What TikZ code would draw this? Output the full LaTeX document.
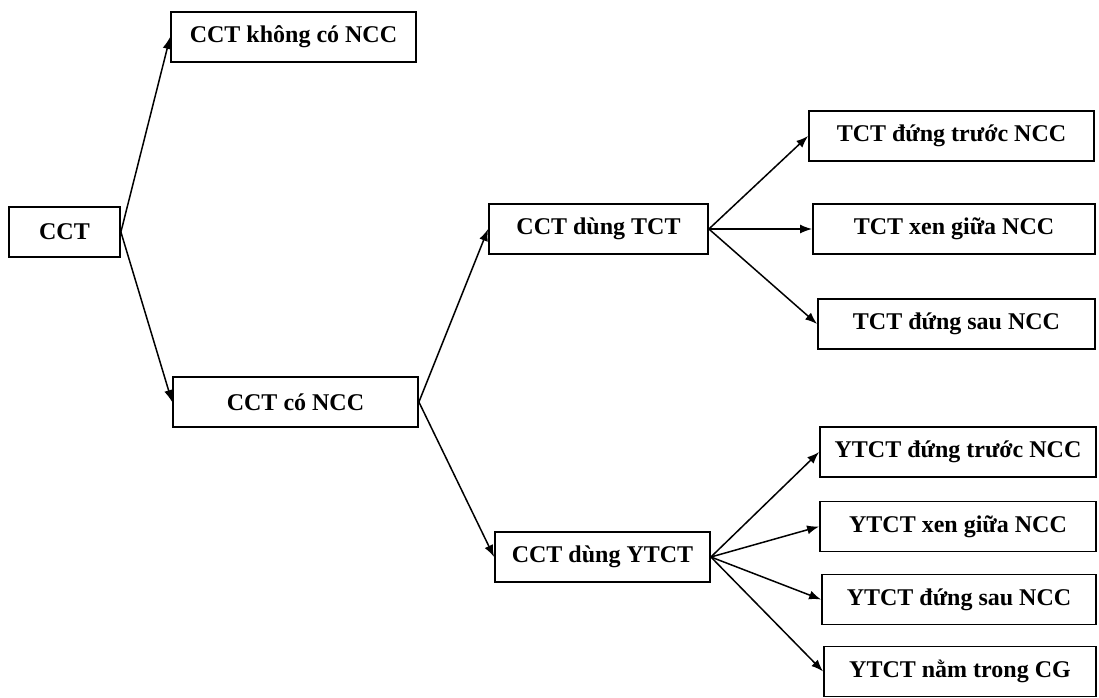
\documentclass[tikz,border=0pt]{standalone}
\usepackage{fontspec}
\setmainfont{Liberation Serif}
\usepackage{tikz}
\usetikzlibrary{arrows.meta}

\begin{document}
\begin{tikzpicture}[x=0.5pt,y=-0.5pt,>={Latex[length=6pt,width=4.5pt]},
    every node/.style={font=\fontsize{12}{14}\selectfont\bfseries},
    box/.style={draw,line width=0.9pt,inner sep=0pt,minimum height=25pt},
    link/.style={->,line width=0.75pt}]
  \useasboundingbox (0,0) rectangle (1099,697);
  % left part
  \node[box,minimum width=55.5pt] (cct) at (64.5,232) {CCT};
  \node[box,minimum width=122.5pt] (cctkhong) at (293.5,37) {CCT không có NCC};
  \node[box,minimum width=122.5pt] (cctco) at (295.5,402) {CCT có NCC};
  \node[box,minimum width=109.5pt] (dungtct) at (598.5,229) {CCT dùng TCT};
  \node[box,minimum width=107.5pt] (dungytct) at (602.5,557) {CCT dùng YTCT};
  % TCT column
  \node[box,minimum width=142.5pt] (tcttruoc) at (951.5,136) {TCT đứng trước NCC};
  \node[box,minimum width=141pt] (tctgiua) at (954,229) {TCT xen giữa NCC};
  \node[box,minimum width=138.5pt] (tctsau) at (956.5,324) {TCT đứng sau NCC};
  % YTCT column
  \node[box,minimum width=138pt] (ytcttruoc) at (958,452) {YTCT đứng trước NCC};
  \node[box,minimum width=138pt] (ytctgiua) at (958,526.5) {YTCT xen giữa NCC};
  \node[box,minimum width=137pt] (ytctsau) at (959,599.5) {YTCT đứng sau NCC};
  \node[box,minimum width=136pt] (ytcttrong) at (960,671.5) {YTCT nằm trong CG};

  \draw[link] (cct.east) -- (cctkhong.west);
  \draw[link] (cct.east) -- (cctco.west);
  \draw[link] (cctco.east) -- (dungtct.west);
  \draw[link] (cctco.east) -- (dungytct.west);
  \foreach \t in {tcttruoc,tctgiua,tctsau}
    \draw[link] (dungtct.east) -- (\t.west);
  \foreach \t in {ytcttruoc,ytctgiua,ytctsau,ytcttrong}
    \draw[link] (dungytct.east) -- (\t.west);
\end{tikzpicture}
\end{document}
